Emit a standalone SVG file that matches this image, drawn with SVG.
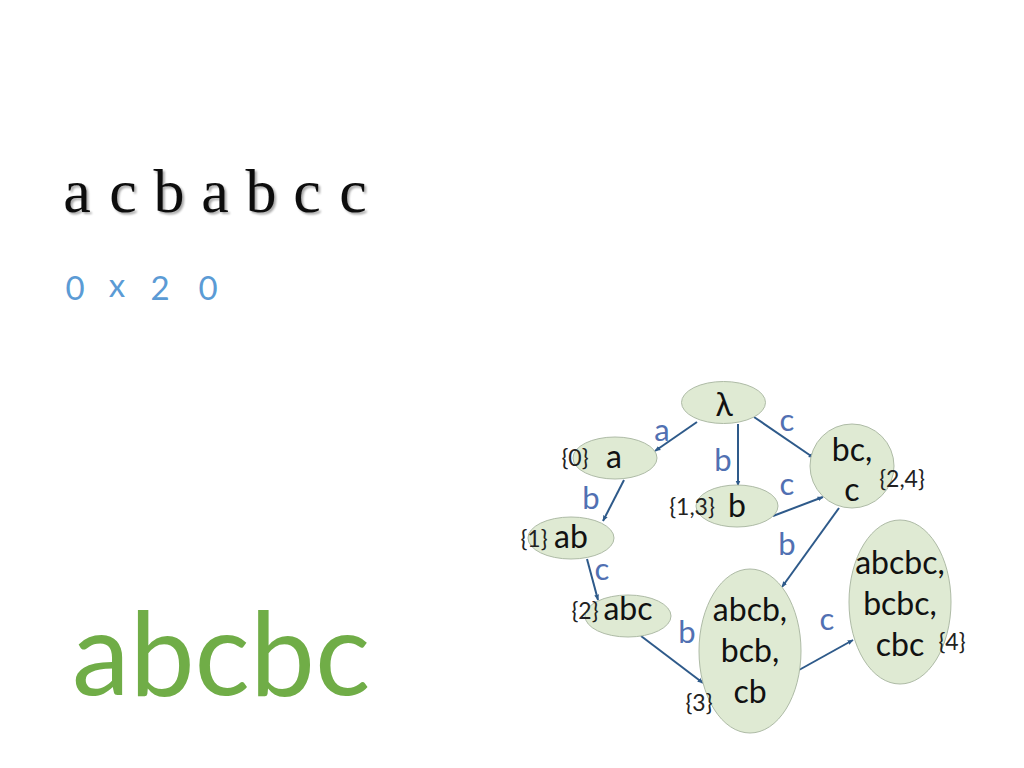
<svg xmlns="http://www.w3.org/2000/svg" width="1024" height="768" viewBox="0 0 1024 768">
<defs>
<marker id="ah" viewBox="0 0 10 10" refX="9" refY="5" markerWidth="6" markerHeight="6" orient="auto" markerUnits="userSpaceOnUse">
<path d="M0,1 L10,5 L0,9 Z" fill="#2E5A8A"/>
</marker>
<filter id="sh" x="-5%" y="-5%" width="110%" height="120%">
<feGaussianBlur in="SourceAlpha" stdDeviation="1.2"/>
<feOffset dx="2" dy="2" result="o"/>
<feComponentTransfer><feFuncA type="linear" slope="0.35"/></feComponentTransfer>
<feMerge><feMergeNode/><feMergeNode in="SourceGraphic"/></feMerge>
</filter>
</defs>
<style>
.n{fill:#DFEAD3;stroke:#AEBBA6;stroke-width:1}
.t{font-family:Lato,"Liberation Sans",sans-serif;font-size:32px;fill:#111;text-anchor:middle}
.s{font-family:Lato,"Liberation Sans",sans-serif;font-size:23px;fill:#222;text-anchor:middle}
.l{font-family:Lato,"Liberation Sans",sans-serif;font-size:31px;fill:#5170B2;text-anchor:middle}
.e{stroke:#2E5A8A;stroke-width:2;fill:none;marker-end:url(#ah)}
.d{font-family:Lato,"Liberation Sans",sans-serif;font-size:33px;fill:#5B9BD5;text-anchor:middle}
</style>
<rect width="1024" height="768" fill="#fff"/>
<text x="77 123 169 215 261 307 353" y="212" text-anchor="middle" font-family="'Liberation Serif',serif" font-size="62" fill="#111" filter="url(#sh)">acbabcc</text>
<text class="d" x="75" y="300">0</text>
<text class="d" x="117" y="297">x</text>
<text class="d" x="160" y="300">2</text>
<text class="d" x="208" y="300">0</text>
<text x="72" y="695" font-family="Lato,'Liberation Sans',sans-serif" font-size="116" fill="#70AD47">abcbc</text>
<g id="connectors">
<line class="e" x1="697" y1="422" x2="655" y2="451"/>
<line class="e" x1="738" y1="424" x2="738" y2="486"/>
<line class="e" x1="754" y1="417" x2="814" y2="458"/>
<line class="e" x1="773" y1="516" x2="823" y2="497"/>
<line class="e" x1="624" y1="480" x2="603" y2="521"/>
<line class="e" x1="839" y1="508" x2="782" y2="587"/>
<line class="e" x1="587" y1="559" x2="598" y2="600"/>
<line class="e" x1="641" y1="636" x2="703" y2="683"/>
<line class="e" x1="799" y1="670" x2="853" y2="640"/>
<text class="l" x="662" y="441">a</text>
<text class="l" x="723" y="471">b</text>
<text class="l" x="787" y="431">c</text>
<text class="l" x="787" y="495">c</text>
<text class="l" x="591" y="509">b</text>
<text class="l" x="787" y="555">b</text>
<text class="l" x="602" y="580">c</text>
<text class="l" x="687" y="643">b</text>
<text class="l" x="827" y="630">c</text>
</g>
<g id="n_lambda"><ellipse class="n" cx="723.5" cy="402.5" rx="42" ry="21"/><text class="t" x="724" y="416">λ</text></g>
<g id="n_a"><ellipse class="n" cx="615" cy="458" rx="42" ry="21"/><text class="t" x="614" y="468">a</text><text class="s" x="575" y="466">{0}</text></g>
<g id="n_b"><ellipse class="n" cx="737" cy="506" rx="41" ry="21"/><text class="t" x="737" y="517">b</text><text class="s" x="692" y="515">{1,3}</text></g>
<g id="n_bc"><ellipse class="n" cx="852" cy="466" rx="42" ry="42"/><text class="t" x="852" y="461">bc,</text><text class="t" x="852" y="501">c</text><text class="s" x="902" y="487">{2,4}</text></g>
<g id="n_ab"><ellipse class="n" cx="571" cy="538" rx="43" ry="21"/><text class="t" x="571" y="548">ab</text><text class="s" x="534" y="547">{1}</text></g>
<g id="n_abc"><ellipse class="n" cx="628" cy="616" rx="43" ry="21"/><text class="t" x="628" y="620">abc</text><text class="s" x="585" y="619">{2}</text></g>
<g id="n_abcb"><ellipse class="n" cx="750" cy="651" rx="51" ry="82"/><text class="t" x="750" y="621">abcb,</text><text class="t" x="750" y="662">bcb,</text><text class="t" x="750" y="703">cb</text><text class="s" x="699" y="711">{3}</text></g>
<g id="n_abcbc"><ellipse class="n" cx="900" cy="602" rx="51" ry="82"/><text class="t" x="900" y="574">abcbc,</text><text class="t" x="900" y="615">bcbc,</text><text class="t" x="900" y="656">cbc</text><text class="s" x="952" y="650">{4}</text></g>
</svg>
